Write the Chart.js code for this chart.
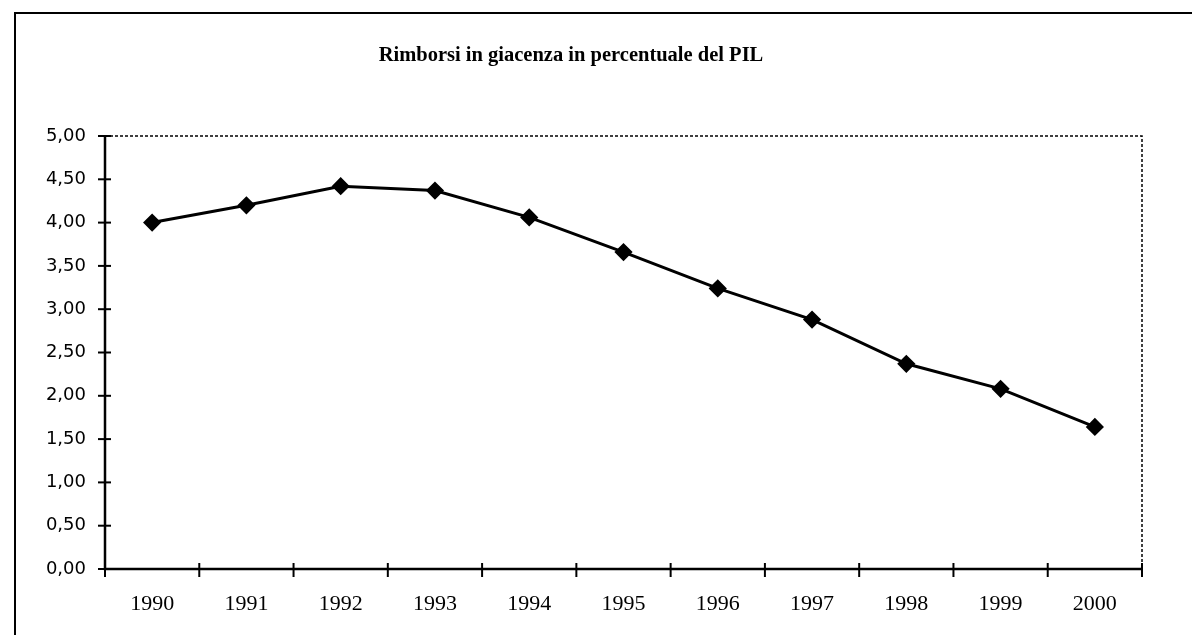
<!DOCTYPE html>
<html>
<head>
<meta charset="utf-8">
<script src="https://cdn.jsdelivr.net/npm/chart.js@4"></script>
<style>
html,body{margin:0;padding:0;background:#fff;}
#wrap{position:relative;width:1192px;height:635px;}
</style>
</head>
<body>
<div id="wrap"><canvas id="c" width="1192" height="635"></canvas></div>
<script>
const titleText = 'Rimborsi in giacenza in percentuale del PIL';
const years = ['1990','1991','1992','1993','1994','1995','1996','1997','1998','1999','2000'];
const rimborsi = [4.00, 4.20, 4.42, 4.37, 4.06, 3.66, 3.24, 2.88, 2.37, 2.08, 1.64];
const yMin = 0, yMax = 5, yStep = 0.5;

const framePlugin = {
  id: 'frame',
  beforeDraw(chart) {
    const ctx = chart.ctx;
    ctx.save();
    ctx.fillStyle = '#fff';
    ctx.fillRect(0, 0, chart.width, chart.height);
    ctx.strokeStyle = '#000';
    ctx.lineWidth = 2;
    ctx.beginPath();
    ctx.moveTo(15, chart.height + 2);
    ctx.lineTo(15, 13);
    ctx.lineTo(chart.width + 2, 13);
    ctx.stroke();
    ctx.restore();
  },
  afterDraw(chart) {
    const ctx = chart.ctx;
    const a = chart.chartArea;
    const xs = chart.scales.x, ys = chart.scales.y;
    ctx.save();
    ctx.strokeStyle = '#000';
    ctx.lineWidth = 1.5;
    ctx.setLineDash([3, 2]);
    ctx.beginPath();
    ctx.moveTo(a.left, a.top);
    ctx.lineTo(a.right, a.top);
    ctx.lineTo(a.right, a.bottom);
    ctx.stroke();
    ctx.setLineDash([]);
    ctx.lineWidth = 2.5;
    ctx.beginPath();
    ctx.moveTo(a.left, a.top);
    ctx.lineTo(a.left, a.bottom);
    ctx.lineTo(a.right, a.bottom);
    ctx.stroke();
    ctx.lineWidth = 2;
    ys.ticks.forEach(t => {
      const y = ys.getPixelForValue(t.value);
      ctx.beginPath();
      ctx.moveTo(a.left - 7, y);
      ctx.lineTo(a.left + 6, y);
      ctx.stroke();
    });
    const n = years.length;
    const half = (xs.getPixelForValue(1) - xs.getPixelForValue(0)) / 2;
    for (let i = 0; i <= n; i++) {
      const x = i < n ? xs.getPixelForValue(i) - half : xs.getPixelForValue(n - 1) + half;
      ctx.beginPath();
      ctx.moveTo(x, a.bottom - 6);
      ctx.lineTo(x, a.bottom + 8);
      ctx.stroke();
    }
    ctx.fillStyle = '#000';
    ctx.font = 'bold 20.5px "Liberation Serif", "Times New Roman", serif';
    ctx.textAlign = 'center';
    ctx.textBaseline = 'alphabetic';
    ctx.fillText(titleText, 571, 61);
    ctx.restore();
  }
};

new Chart(document.getElementById('c'), {
  type: 'line',
  data: {
    labels: years,
    datasets: [{
      data: rimborsi,
      borderColor: '#000',
      backgroundColor: '#000',
      borderWidth: 3,
      pointStyle: 'rectRot',
      pointRadius: 7,
      pointBackgroundColor: '#000',
      pointBorderColor: '#000',
      tension: 0,
      fill: false
    }]
  },
  options: {
    responsive: false,
    animation: false,
    devicePixelRatio: 1,
    layout: { padding: { top: 136, right: 50, left: 0, bottom: 0 } },
    plugins: { legend: { display: false }, title: { display: false }, tooltip: { enabled: false } },
    scales: {
      x: {
        type: 'category',
        offset: true,
        grid: { display: false, drawTicks: false },
        border: { display: false },
        ticks: {
          color: '#000',
          padding: 22,
          maxRotation: 0,
          font: { family: '"Liberation Serif", "Times New Roman", serif', size: 22 }
        },
        afterFit(s) { s.height = 66; }
      },
      y: {
        min: yMin, max: yMax,
        grid: { display: false, drawTicks: false },
        border: { display: false },
        ticks: {
          stepSize: yStep,
          color: '#000',
          padding: 19,
          font: { family: '"DejaVu Sans", sans-serif', size: 18 },
          callback: v => Number(v).toFixed(2).replace('.', ',')
        },
        afterFit(s) { s.width = 105; }
      }
    }
  },
  plugins: [framePlugin]
});
</script>
</body>
</html>
